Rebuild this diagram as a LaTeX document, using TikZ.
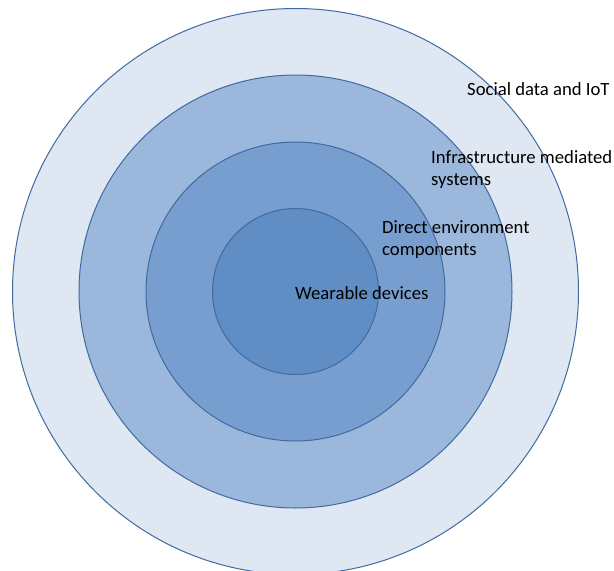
\documentclass[tikz,border=0pt]{standalone}
\usepackage{fontspec}
\setmainfont{Carlito}
\definecolor{ringA}{HTML}{DFE7F2}
\definecolor{ringB}{HTML}{9BB7DB}
\definecolor{ringC}{HTML}{779ECE}
\definecolor{ringD}{HTML}{5F8DC4}
\definecolor{ringline}{HTML}{3F6BA3}
\begin{document}
\begin{tikzpicture}[x=1pt,y=-1pt,
  ring/.style={draw=ringline, line width=1pt},
  lbl/.style={anchor=base west, inner sep=0pt, text=black,
    font=\fontsize{18.7}{22.5}\selectfont, align=left}]
\useasboundingbox (0,0) rectangle (614,571);
\clip (0,0) rectangle (614,571);
\coordinate (c) at (295.5,291.5);
% nested rings, outermost first
\fill[white] (0,0) rectangle (614,571);
\draw[ring, fill=ringA] (c) circle[radius=283];
\draw[ring, fill=ringB] (c) circle[radius=216.5];
\draw[ring, fill=ringC] (c) circle[radius=149.5];
\draw[ring, fill=ringD] (c) circle[radius=83];
% ring labels
\node[lbl] (social) at (467,95) {Social data and IoT};
\node[lbl, anchor=north west] (infra) at (431,150) {Infrastructure mediated\\systems};
\node[lbl, anchor=north west] (direct) at (382,220) {Direct environment\\components};
\node[lbl] (wear) at (295,299) {Wearable devices};
\end{tikzpicture}
\end{document}
